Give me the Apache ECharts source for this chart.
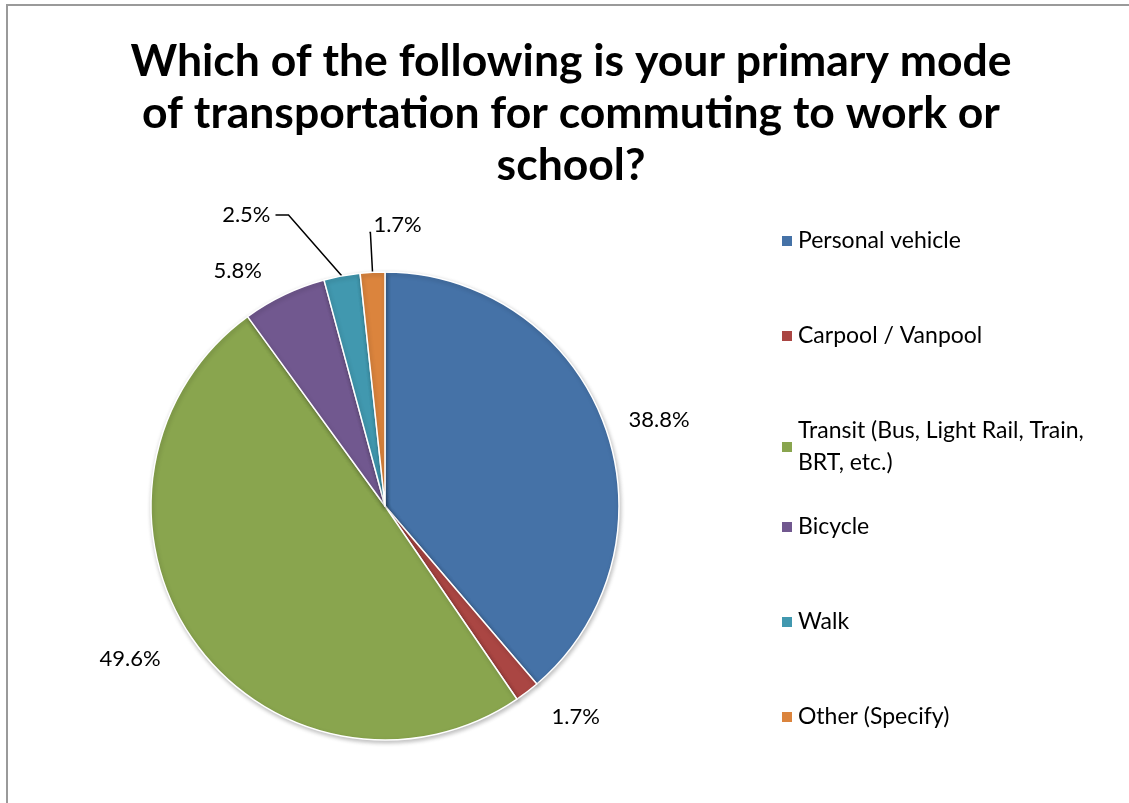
<!DOCTYPE html>
<html>
<head>
<meta charset="utf-8">
<script src="https://cdn.jsdelivr.net/npm/echarts@6/dist/echarts.min.js"></script>
<style>
  html, body { margin: 0; padding: 0; background: #fff; }
  #chart { width: 1129px; height: 803px; }
</style>
</head>
<body>
<div id="chart"></div>
<script>
// Survey answers and their shares (percent of respondents)
const categories = [
  'Personal vehicle',
  'Carpool / Vanpool',
  'Transit (Bus, Light Rail, Train, BRT, etc.)',
  'Bicycle',
  'Walk',
  'Other (Specify)'
];
const shares = [38.8, 1.7, 49.6, 5.8, 2.5, 1.7];
const colors = ['#4572A7', '#AA4643', '#89A54E', '#71588F', '#4198AF', '#DB843D'];

const titleText = 'Which of the following is your primary mode\nof transportation for commuting to work or\nschool?';
const FONT = 'Lato, "Open Sans", sans-serif';

// per-slice leader settings: [length, length2, showLine]
const leader = [
  [16, 4, false],
  [32, 0, false],
  [32, 2, false],
  [26, 6, false],
  [62, 55, true],
  [40, 1, true]
];

const data = categories.map((name, i) => ({
  name: name,
  value: shares[i],
  itemStyle: { color: colors[i] },
  labelLine: { show: leader[i][2], length: leader[i][0], length2: leader[i][1] }
}));

const legendText = {
  fontFamily: FONT,
  fontSize: 23,
  lineHeight: 32,
  color: '#000'
};

function legendBlock(names, top) {
  return {
    orient: 'vertical',
    data: names,
    left: 775,
    top: top,
    itemWidth: 12,
    itemHeight: 12,
    itemGap: 63,
    icon: 'rect',
    selectedMode: false,
    formatter: function (name) {
      return name.replace('Train, ', 'Train,\n');
    },
    textStyle: legendText
  };
}

const chart = echarts.init(document.getElementById('chart'), null, { renderer: 'canvas' });

chart.setOption({
  backgroundColor: '#ffffff',
  animation: false,
  title: {
    text: titleText,
    left: 571,
    textAlign: 'center',
    top: 36,
    padding: 0,
    textStyle: {
      fontFamily: FONT,
      fontWeight: 'bold',
      fontSize: 44.5,
      lineHeight: 52,
      color: '#000'
    }
  },
  // the wrapped "Transit" entry spills downward without pushing the rest of the list
  legend: [
    legendBlock(categories.slice(0, 3), 220),
    legendBlock(categories.slice(3), 506)
  ],
  graphic: [{
    type: 'rect',
    shape: { x: 7, y: 5, width: 1200, height: 900 },
    style: { fill: 'none', stroke: '#9a9a9a', lineWidth: 2 },
    silent: true,
    z: -1
  }],
  series: [{
    type: 'pie',
    center: [385, 506],
    radius: 234,
    startAngle: 90,
    clockwise: true,
    avoidLabelOverlap: false,
    data: data,
    itemStyle: {
      borderColor: '#ffffff',
      borderWidth: 1.5,
      shadowBlur: 4,
      shadowOffsetX: 1,
      shadowOffsetY: 2,
      shadowColor: 'rgba(0,0,0,0.25)'
    },
    label: {
      show: true,
      position: 'outside',
      formatter: function (p) { return p.value.toFixed(1) + '%'; },
      fontFamily: FONT,
      fontSize: 22,
      color: '#000'
    },
    labelLine: {
      lineStyle: { color: '#000', width: 1.5 }
    },
    labelLayout: function (params) {
      const lp = params.labelLinePoints;
      if (!lp) return {};
      if (params.dataIndex === 4) {
        // run the leader diagonally, with only a short flat tail into the label
        return { labelLinePoints: [lp[0], [lp[2][0] + 13, lp[2][1]], lp[2]] };
      }
      if (params.dataIndex === 5) {
        // slice sits just left of 12 o'clock; its label reads to the right of the leader
        return { x: lp[2][0] + 4, y: lp[2][1] - 7, align: 'left', labelLinePoints: lp };
      }
      return {};
    },
    emphasis: { disabled: true }
  }]
});
</script>
</body>
</html>
